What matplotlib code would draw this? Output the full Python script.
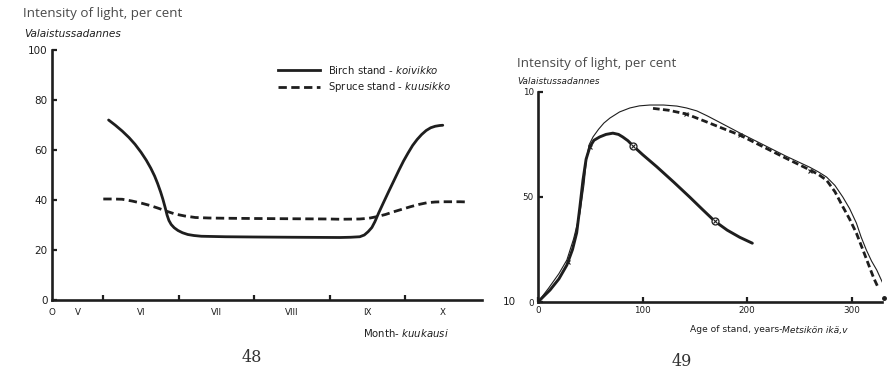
import matplotlib
matplotlib.use("Agg")
import matplotlib.pyplot as plt

# ---- data: light intensity through the growing season (fig. 48) ----
month_ticks = [6, 7, 8, 9, 10]
month_label_pos = [5.32, 5.66, 6.5, 7.5, 8.5, 9.5, 10.5]
month_labels = ["O", "V", "VI", "VII", "VIII", "IX", "X"]

birch_month = [6.07, 6.16, 6.25, 6.34, 6.42, 6.50, 6.57, 6.63, 6.68, 6.72, 6.76, 6.79, 6.82,
               6.845, 6.87, 6.90, 6.94, 6.99, 7.05, 7.12, 7.20, 7.30, 7.62, 8.0, 8.5, 9.14,
               9.28, 9.40, 9.46, 9.51, 9.56, 9.60, 9.65, 9.71, 9.78, 9.85, 9.92, 9.98, 10.04,
               10.10, 10.16, 10.22, 10.28, 10.34, 10.40, 10.46, 10.50]
birch_light = [72, 69.9, 67.6, 65.0, 62.3, 59.1, 55.9, 52.7, 49.6, 46.6, 43.2, 40.3, 37.0,
               34.0, 31.8, 30.2, 28.9, 27.8, 26.9, 26.2, 25.8, 25.5, 25.3, 25.2, 25.1, 25.0,
               25.1, 25.3, 26.0, 27.3, 29.0, 31.3, 34.8, 38.7, 43.2, 47.6, 52.0, 55.6, 58.8,
               61.8, 64.2, 66.2, 67.8, 68.9, 69.5, 69.8, 69.9]

spruce_month = [6.0, 6.12, 6.25, 6.38, 6.51, 6.62, 6.73, 6.84, 6.95, 7.08, 7.22, 7.40, 7.62,
                8.0, 8.5, 9.0, 9.14, 9.40, 9.52, 9.62, 9.74, 9.85, 9.96, 10.07, 10.18, 10.29,
                10.40, 10.50, 10.62, 10.73, 10.84]
spruce_light = [40.4, 40.4, 40.3, 39.6, 38.7, 37.8, 36.7, 35.5, 34.4, 33.6, 33.0, 32.8, 32.7,
                32.6, 32.5, 32.4, 32.3, 32.4, 32.7, 33.3, 34.2, 35.3, 36.3, 37.3, 38.2, 38.9,
                39.2, 39.3, 39.3, 39.3, 39.2]

# ---- data: light intensity by stand age (fig. 49) ----
env_age = [0, 10, 20, 27.6, 34, 40, 44, 46.6, 49, 52.6, 58, 63, 68.8, 78, 87.9, 97, 107, 120,
           132.8, 142, 151.9, 162, 172, 193, 215, 237, 259.8, 268, 276, 284, 291.5, 298,
           304.5, 309, 314, 319, 324, 329.7]
env_light = [0, 6.5, 13.5, 20, 30, 42, 56, 69, 75, 78.6, 82.3, 85.2, 87.6, 90.5, 92.4, 93.4,
             93.8, 93.8, 93.3, 92.4, 91, 88.6, 86, 80.5, 75, 69.5, 64.2, 62, 59.5, 55.5, 50,
             44.5, 37.6, 31, 24.8, 19.5, 15.2, 9]

spruce_age = [110, 125, 142, 160, 176, 193, 215, 237, 260, 268, 276, 284, 291.5, 298, 304.5,
              311, 317, 321, 325]
spruce_age_light = [92.2, 91.3, 89.5, 86, 82.8, 79.5, 74, 68.5, 62.9, 60.8, 58, 52.5, 45.4,
                    39.5, 32.8, 24.5, 16.7, 11.5, 7.2]

birch_age = [0, 5, 11.5, 20, 27.6, 33, 37, 40, 43, 46, 49.7, 53.5, 59, 65, 71.6, 77, 81, 86,
             91, 100, 113.6, 130, 145, 157, 169, 181, 193, 205]
birch_age_light = [0, 2.5, 5.7, 11, 17.6, 25, 33, 45, 58, 68, 74, 77, 78.6, 79.8, 80.4, 79.8,
                   78.6, 76.8, 74.3, 70.2, 64.4, 57, 50, 44.2, 38.5, 34.2, 30.8, 28]

birch_obs_age = [91, 169]
birch_obs_light = [74.3, 38.5]
cross_age = [28.7, 49.7, 142, 193, 260]
cross_light = [19, 74, 89.5, 79.5, 62.5]

ink = "#1e1e1e"
grey_text = "#4a4a4a"
W, H = 894, 372

fig = plt.figure(figsize=(W / 100, H / 100), dpi=100)
fig.patch.set_facecolor("white")


def fx(px):
    return px / W


def fy(py):
    return 1 - py / H


def style_axes(ax):
    for side in ("top", "right"):
        ax.spines[side].set_visible(False)
    for side in ("left", "bottom"):
        ax.spines[side].set_linewidth(1.9)
        ax.spines[side].set_color(ink)
    ax.set_facecolor("none")
    ax.tick_params(which="major", direction="in", length=3.5, width=1.6, color=ink,
                   labelcolor=ink, pad=3)


# ---------------- left panel ----------------
axL = fig.add_axes([fx(52), fy(300), (482 - 52) / W, (300 - 50) / H])
style_axes(axL)
axL.set_xlim(5.32, 11.02)
axL.set_ylim(0, 100)
axL.set_yticks([0, 20, 40, 60, 80, 100])
axL.set_yticklabels(["0", "20", "40", "60", "80", "100"], fontsize=7.5)
axL.set_xticks(month_ticks)
axL.set_xticklabels([""] * len(month_ticks))
axL.set_xticks(month_label_pos, minor=True)
axL.set_xticklabels(month_labels, minor=True, fontsize=6.3)
axL.tick_params(axis="x", which="minor", length=0, pad=6, labelcolor=ink)

axL.plot(birch_month, birch_light, color=ink, lw=2.0, solid_capstyle="round",
         solid_joinstyle="round")
axL.plot(spruce_month, spruce_light, color=ink, lw=2.0, dashes=(3.0, 1.6))

# legend
axL.plot([0.526, 0.623], [0.92, 0.92], transform=axL.transAxes, color=ink, lw=2.0,
         clip_on=False)
axL.plot([0.526, 0.623], [0.852, 0.852], transform=axL.transAxes, color=ink, lw=2.0,
         dashes=(3.0, 1.6), clip_on=False)
axL.text(0.642, 0.92, r"Birch stand - $\mathit{koivikko}$", transform=axL.transAxes,
         fontsize=7.3, color=ink, va="center", ha="left")
axL.text(0.642, 0.852, r"Spruce stand - $\mathit{kuusikko}$", transform=axL.transAxes,
         fontsize=7.3, color=ink, va="center", ha="left")

fig.text(fx(363), fy(333), r"Month- $\mathit{kuukausi}$", fontsize=7.3, color=ink,
         va="center", ha="left")
fig.text(fx(23), fy(14), "Intensity of light, per cent", fontsize=9.6, color=grey_text,
         va="center", ha="left", family="Open Sans")
fig.text(fx(24), fy(34), "Valaistussadannes", fontsize=7.6, color=ink, style="italic",
         va="center", ha="left")
fig.text(fx(252), fy(358), "48", fontsize=11.5, color="#333333", family="DejaVu Serif",
         va="center", ha="center")

# ---------------- right panel ----------------
axR = fig.add_axes([fx(538), fy(302), (882 - 538) / W, (302 - 92) / H])
style_axes(axR)
axR.set_xlim(0, 329)
axR.set_ylim(0, 100)
axR.set_xticks([0, 100, 200, 300])
axR.set_xticklabels(["0", "100", "200", "300"], fontsize=6.3)
axR.set_yticks([0, 50, 100])
axR.set_yticklabels(["0", "50", "10"], fontsize=6.3)

axR.plot(env_age, env_light, color=ink, lw=0.8)
axR.plot(spruce_age, spruce_age_light, color=ink, lw=2.0, dashes=(2.4, 1.2))
axR.plot([331], [2], marker="o", ms=2.5, color=ink, clip_on=False)
axR.plot(birch_age, birch_age_light, color=ink, lw=2.1, solid_capstyle="round",
         solid_joinstyle="round")
axR.plot(birch_obs_age, birch_obs_light, ls="none", marker="o", ms=5, mfc="white",
         mec=ink, mew=0.9)
axR.plot(birch_obs_age, birch_obs_light, ls="none", marker="x", ms=3.5, mec=ink, mew=0.8)
axR.plot(cross_age, cross_light, ls="none", marker="x", ms=3, mec=ink, mew=0.8)

fig.text(fx(503), fy(302), "10", fontsize=7.5, color=ink, va="center", ha="left")
age_label = fig.text(fx(690), fy(330), "Age of stand, years-", fontsize=6.6, color=ink,
                     va="center", ha="left")
fig.canvas.draw()
bb = age_label.get_window_extent()
fig.text(bb.x1 / fig.bbox.width, fy(330), "Metsikön ikä,v", fontsize=6.6, color=ink,
         style="italic", va="center", ha="left")
fig.text(fx(517), fy(63), "Intensity of light, per cent", fontsize=9.6, color=grey_text,
         va="center", ha="left", family="Open Sans")
fig.text(fx(517), fy(81), "Valaistussadannes", fontsize=6.4, color=ink, style="italic",
         va="center", ha="left")
fig.text(fx(682), fy(362), "49", fontsize=11.5, color="#333333", family="DejaVu Serif",
         va="center", ha="center")

fig.savefig("out.png", dpi=100, facecolor="white")
